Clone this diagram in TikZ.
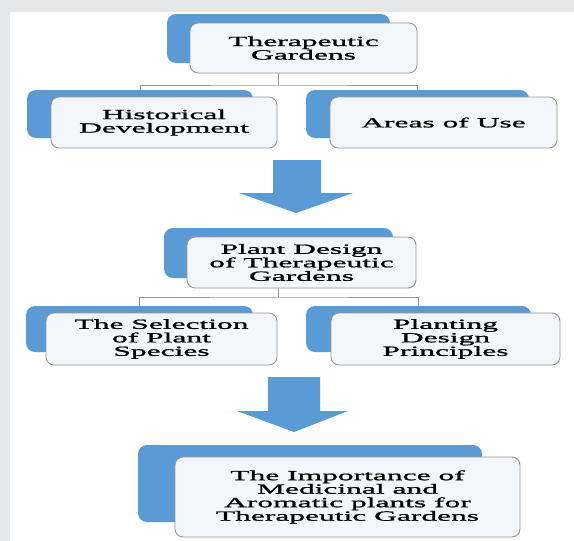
\documentclass[tikz,border=0pt]{standalone}
\usepackage{fontspec}
\setmainfont{Liberation Serif}[FakeStretch=2.25,FakeBold=1.3]
\definecolor{bggray}{RGB}{230,231,233}
\definecolor{sablue}{RGB}{91,155,213}
\definecolor{cardfill}{RGB}{243,246,251}
\definecolor{cardline}{RGB}{150,150,150}
\definecolor{connline}{RGB}{150,150,150}
\tikzset{
  backcard/.style={draw=none, fill=sablue, rounded corners=9pt, inner sep=0pt},
  frontcard/.style={draw=cardline, line width=0.9pt, fill=cardfill, rounded corners=8pt,
    inner sep=0pt, align=center, font=\fontsize{14}{13.5}\selectfont},
  conn/.style={draw=connline, line width=1pt},
  blockarrow/.style={fill=sablue, draw=none}
}
\begin{document}
\begin{tikzpicture}[x=1pt,y=-1pt]
\useasboundingbox (0,0) rectangle (574,541);
\fill[bggray] (0,0) rectangle (574,541);
\fill[white] (10,12) rectangle (574,541);

% junction coordinates
\coordinate (j1) at (278.5,85);
\coordinate (j2) at (278.5,297);

% ---- level 1
\node[backcard, minimum width=223pt, minimum height=49pt] (b1) at (278.5,38.5) {};
\node[backcard, minimum width=226pt, minimum height=48pt] (b2) at (140,114) {};
\node[backcard, minimum width=223pt, minimum height=48pt] (b3) at (417.5,114) {};
\draw[conn] (b1.south) -- (j1);
\draw[conn] (b2.north) |- (j1) -| (b3.north);
\node[frontcard, minimum width=227pt, minimum height=50pt] (w1) at (303.5,48) {Therapeutic\\Gardens};
\node[frontcard, minimum width=226pt, minimum height=51pt] (w2) at (164,122.5) {Historical\\Development};
\node[frontcard, minimum width=227pt, minimum height=51pt] (w3) at (443.5,122.5) {Areas of Use};

% ---- arrow 1
\fill[blockarrow] (273,160) -- (321,160) -- (321,193) -- (353,193) -- (296,213)
  -- (239,193) -- (273,193) -- cycle;

% ---- level 2
\node[backcard, minimum width=229pt, minimum height=50pt] (b4) at (278.5,253) {};
\node[backcard, minimum width=227pt, minimum height=46pt] (b5) at (139.5,329) {};
\node[backcard, minimum width=225pt, minimum height=46pt] (b6) at (418.5,329) {};
\draw[conn] (b4.south) -- (j2);
\draw[conn] (b5.north) |- (j2) -| (b6.north);
\node[frontcard, minimum width=229pt, minimum height=51pt] (w4) at (301.5,262.5) {Plant Design\\of Therapeutic\\Gardens};
\node[frontcard, minimum width=231pt, minimum height=52pt] (w5) at (161.5,339) {The Selection\\of Plant\\Species};
\node[frontcard, minimum width=229pt, minimum height=52pt] (w6) at (445.5,339) {Planting\\Design\\Principles};

% ---- arrow 2
\fill[blockarrow] (268,377) -- (320,377) -- (320,411) -- (348,411) -- (294,432)
  -- (237,411) -- (268,411) -- cycle;

% ---- level 3
\node[backcard, minimum width=344pt, minimum height=77pt] (b7) at (310,483.5) {};
\node[frontcard, minimum width=345pt, minimum height=80pt] (w7) at (347.5,497) {The Importance of\\Medicinal and\\Aromatic plants for\\Therapeutic Gardens};
\end{tikzpicture}
\end{document}
